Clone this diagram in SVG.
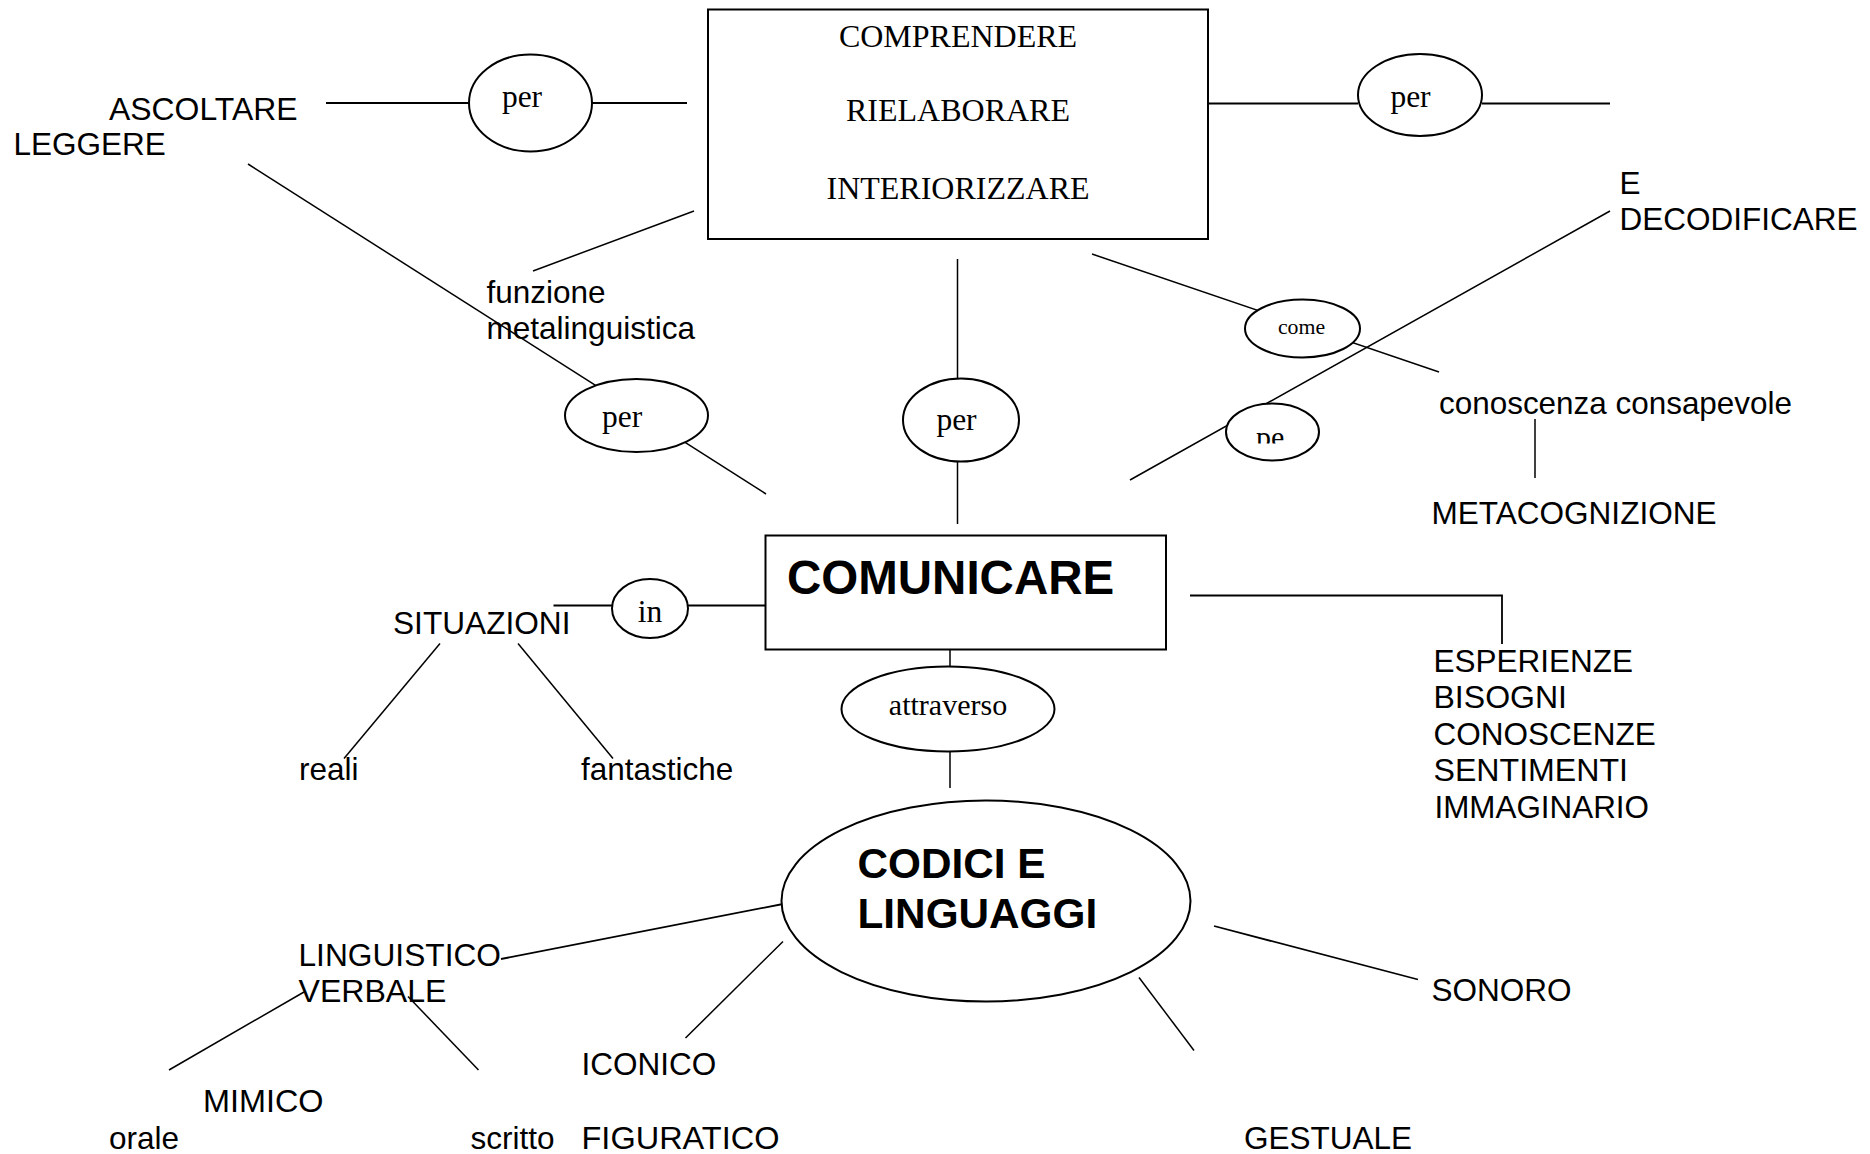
<svg xmlns="http://www.w3.org/2000/svg" width="1870" height="1154" viewBox="0 0 1870 1154">
<style>
.s{font-family:"Liberation Sans",Arial,sans-serif;font-size:31.5px;fill:#000}
.b{font-family:"Liberation Sans",Arial,sans-serif;font-weight:bold;fill:#000}
.t{font-family:"Liberation Serif","Times New Roman",serif;font-size:31.5px;fill:#000}
.bx{font-size:32px}
.ln{stroke:#000;stroke-width:1.8;fill:none}
.thin{stroke:#000;stroke-width:1.5;fill:none}
.sh{stroke:#000;stroke-width:2;fill:#fff}
</style>
<defs>
<clipPath id="peclip"><rect x="1240" y="420" width="70" height="23.5"/></clipPath>
</defs>
<rect width="1870" height="1154" fill="#fff"/>
<g id="connectors">
<line class="ln" x1="326" y1="103" x2="469" y2="103"/>
<line class="ln" x1="592" y1="103" x2="687" y2="103"/>
<line class="ln" x1="1208" y1="103.5" x2="1358" y2="103.5"/>
<line class="ln" x1="1482" y1="103.5" x2="1610" y2="103.5"/>
<line class="thin" x1="248" y1="164" x2="766" y2="494"/>
<line class="thin" x1="694" y1="211" x2="533" y2="271"/>
<line class="thin" x1="957.5" y1="259" x2="957.5" y2="524"/>
<line class="thin" x1="1092" y1="254" x2="1439" y2="372"/>
<line class="thin" x1="1610" y1="211" x2="1130" y2="480"/>
<line class="thin" x1="1535" y1="419" x2="1535" y2="478"/>
<line class="ln" x1="553.5" y1="605.5" x2="765" y2="605.5"/>
<polyline class="ln" points="1190,595.5 1502,595.5 1502,644"/>
<line class="thin" x1="440" y1="643.5" x2="344" y2="758.5"/>
<line class="thin" x1="518" y1="643.5" x2="613" y2="758.5"/>
<line class="thin" x1="950" y1="643" x2="950" y2="788"/>
<line class="ln" x1="783" y1="904" x2="501" y2="959"/>
<line class="thin" x1="304" y1="992" x2="169" y2="1070"/>
<line class="thin" x1="408" y1="996.5" x2="478.5" y2="1070"/>
<line class="thin" x1="783" y1="941.5" x2="685.5" y2="1038"/>
<line class="ln" x1="1214" y1="926" x2="1418" y2="979.5"/>
<line class="thin" x1="1139" y1="977.5" x2="1194" y2="1050.5"/>
</g>
<g id="top-box">
<rect class="sh" x="708" y="9.5" width="500" height="229.5"/>
<text class="t bx" x="958" y="46.5" text-anchor="middle">COMPRENDERE</text>
<text class="t bx" x="958" y="120.7" text-anchor="middle">RIELABORARE</text>
<text class="t bx" x="958" y="199" text-anchor="middle">INTERIORIZZARE</text>
</g>
<g id="per-left-top">
<ellipse class="sh" cx="530.5" cy="103" rx="61.5" ry="48.5"/>
<text class="t" x="522" y="107" text-anchor="middle">per</text>
</g>
<g id="per-right-top">
<ellipse class="sh" cx="1420" cy="95" rx="62" ry="41"/>
<text class="t" x="1410.5" y="106.5" text-anchor="middle">per</text>
</g>
<g id="ascoltare"><text class="s" x="109" y="119.5" textLength="188.5" lengthAdjust="spacingAndGlyphs">ASCOLTARE</text><text class="s" x="13.5" y="155">LEGGERE</text></g>
<g id="decodificare"><text class="s" x="1619.5" y="193.5">E</text><text class="s" x="1619.5" y="229.5">DECODIFICARE</text></g>
<g id="funzione"><text class="s" x="486.5" y="303.3">funzione</text><text class="s" x="486.5" y="339.3" textLength="208.5" lengthAdjust="spacingAndGlyphs">metalinguistica</text></g>
<g id="per-diag">
<ellipse class="sh" cx="636.5" cy="415.5" rx="71.5" ry="36.5"/>
<text class="t" x="602" y="427">per</text>
</g>
<g id="per-mid">
<ellipse class="sh" cx="961" cy="420" rx="58" ry="41.5"/>
<text class="t" x="956.5" y="430" text-anchor="middle">per</text>
</g>
<g id="come">
<ellipse class="sh" cx="1302.5" cy="328.5" rx="57.5" ry="29"/>
<text class="t" x="1301.5" y="334" text-anchor="middle" style="font-size:21.8px">come</text>
</g>
<g id="pe">
<ellipse class="sh" cx="1272.5" cy="432" rx="46.5" ry="28.5"/>
<text class="t" x="1256" y="447" clip-path="url(#peclip)" style="font-size:30px">pe</text>
</g>
<g id="conoscenza"><text class="s" x="1439" y="413.5" textLength="353" lengthAdjust="spacingAndGlyphs">conoscenza consapevole</text></g>
<g id="metacognizione"><text class="s" x="1431.5" y="524" textLength="285" lengthAdjust="spacingAndGlyphs">METACOGNIZIONE</text></g>
<g id="comunicare">
<rect class="sh" x="765.5" y="535.5" width="400.5" height="114"/>
<text class="b" x="787" y="594" style="font-size:47.5px">COMUNICARE</text>
</g>
<g id="in">
<ellipse class="sh" cx="650" cy="608.5" rx="38" ry="29.5"/>
<text class="t" x="650" y="621.5" text-anchor="middle">in</text>
</g>
<g id="situazioni"><text class="s" x="393" y="633.5" textLength="177.5" lengthAdjust="spacingAndGlyphs">SITUAZIONI</text></g>
<g id="reali"><text class="s" x="299" y="780">reali</text></g>
<g id="fantastiche"><text class="s" x="581" y="780">fantastiche</text></g>
<g id="esperienze">
<text class="s" x="1433.5" y="671.5">ESPERIENZE</text>
<text class="s" x="1433.5" y="708" textLength="133.5" lengthAdjust="spacingAndGlyphs">BISOGNI</text>
<text class="s" x="1433.5" y="744.5">CONOSCENZE</text>
<text class="s" x="1433.5" y="781" textLength="194.5" lengthAdjust="spacingAndGlyphs">SENTIMENTI</text>
<text class="s" x="1434.5" y="817.5" textLength="214.5" lengthAdjust="spacingAndGlyphs">IMMAGINARIO</text>
</g>
<g id="attraverso">
<ellipse class="sh" cx="948" cy="709" rx="106.5" ry="42.5"/>
<text class="t" x="948" y="715" text-anchor="middle" style="font-size:30px">attraverso</text>
</g>
<g id="codici">
<ellipse class="sh" cx="986" cy="901" rx="204.5" ry="100.5"/>
<text class="b" x="857.5" y="877.5" style="font-size:42.3px">CODICI E</text>
<text class="b" x="857.5" y="927.5" style="font-size:42.3px">LINGUAGGI</text>
</g>
<g id="linguistico"><text class="s" x="298.5" y="965.5" textLength="202.5" lengthAdjust="spacingAndGlyphs">LINGUISTICO</text><text class="s" x="298.5" y="1001.5" textLength="148" lengthAdjust="spacingAndGlyphs">VERBALE</text></g>
<g id="mimico"><text class="s" x="203" y="1112" textLength="120.5" lengthAdjust="spacingAndGlyphs">MIMICO</text></g>
<g id="orale"><text class="s" x="109" y="1149">orale</text></g>
<g id="scritto"><text class="s" x="470.5" y="1149">scritto</text></g>
<g id="iconico"><text class="s" x="581.5" y="1075">ICONICO</text></g>
<g id="figuratico"><text class="s" x="581.5" y="1149" textLength="198" lengthAdjust="spacingAndGlyphs">FIGURATICO</text></g>
<g id="sonoro"><text class="s" x="1431.5" y="1001">SONORO</text></g>
<g id="gestuale"><text class="s" x="1244" y="1149">GESTUALE</text></g>
</svg>
